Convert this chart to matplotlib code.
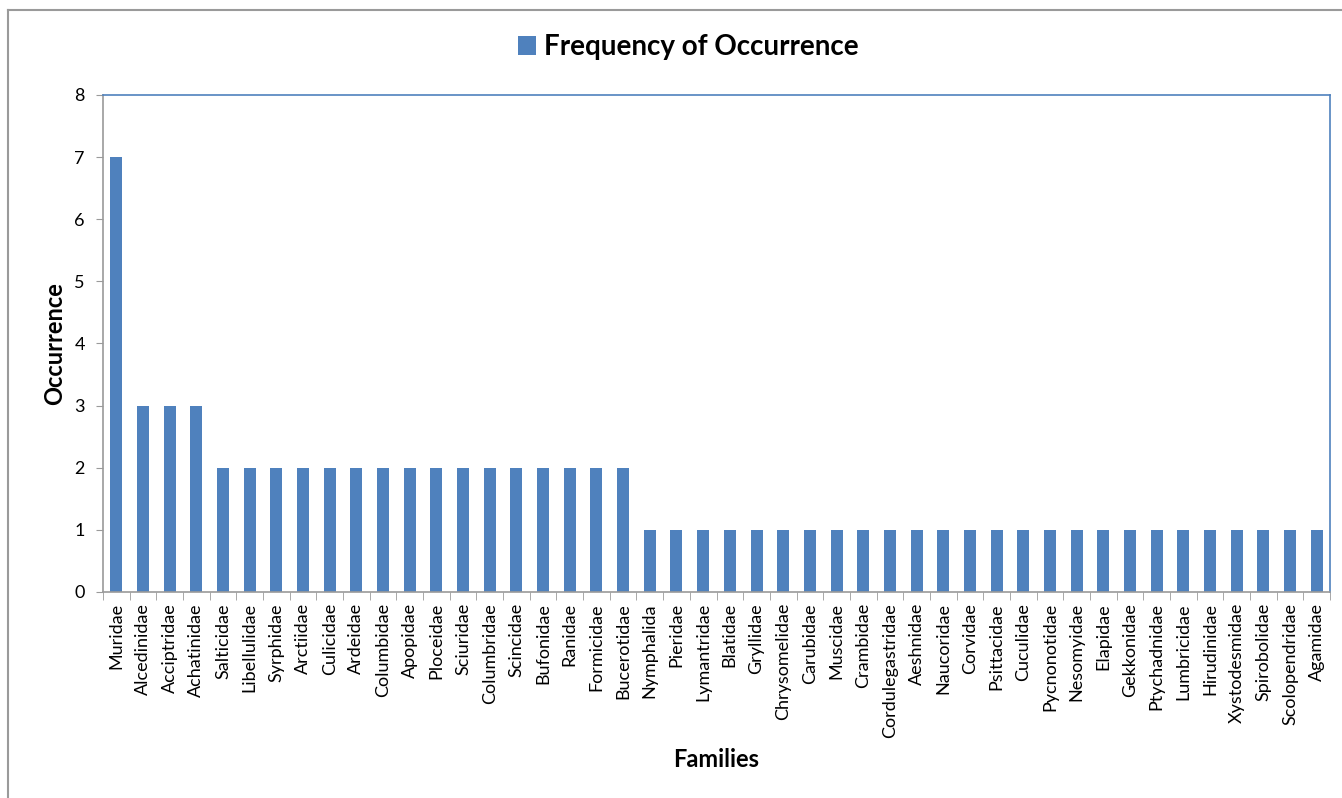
import matplotlib.pyplot as plt
from matplotlib.lines import Line2D
from matplotlib.ticker import FixedLocator

# Families and how often each one occurred
families = ['Muridae', 'Alcedinidae', 'Acciptridae', 'Achatinidae', 'Salticidae',
            'Libellulidae', 'Syrphidae', 'Arctiidae', 'Culicidae', 'Ardeidae',
            'Columbidae', 'Apopidae', 'Ploceidae', 'Sciuridae', 'Columbridae',
            'Scincidae', 'Bufonidae', 'Ranidae', 'Formicidae', 'Bucerotidae',
            'Nymphalida', 'Pieridae', 'Lymantridae', 'Blatidae', 'Gryllidae',
            'Chrysomelidae', 'Carubidae', 'Muscidae', 'Crambidae', 'Cordulegastridae',
            'Aeshnidae', 'Naucoridae', 'Corvidae', 'Psittacidae', 'Cuculidae',
            'Pycnonotidae', 'Nesomyidae', 'Elapidae', 'Gekkonidae', 'Ptychadnidae',
            'Lumbricidae', 'Hirudinidae', 'Xystodesmidae', 'Spirobolidae',
            'Scolopendridae', 'Agamidae']
occurrence = [7, 3, 3, 3, 2,
              2, 2, 2, 2, 2,
              2, 2, 2, 2, 2,
              2, 2, 2, 2, 2,
              1, 1, 1, 1, 1,
              1, 1, 1, 1, 1,
              1, 1, 1, 1, 1,
              1, 1, 1, 1, 1,
              1, 1, 1, 1,
              1, 1]
y_ticks = [0, 1, 2, 3, 4, 5, 6, 7, 8]

BLUE = '#4F81BD'
GRAY = '#9a9a9a'

plt.rcParams['font.family'] = ['Lato', 'DejaVu Sans']

fig = plt.figure(figsize=(13.42, 7.98), dpi=100)
ax = fig.add_axes([103 / 1342, 1 - 592 / 798, (1330 - 103) / 1342, (592 - 95) / 798])

x = list(range(len(families)))
bars = ax.bar(x, occurrence, width=0.45, color=BLUE, label='Frequency of Occurrence')

ax.set_xlim(-0.5, len(families) - 0.5)
ax.set_ylim(0, 8)
ax.set_yticks(y_ticks)
ax.tick_params(axis='y', labelsize=13, length=5, color=GRAY, pad=8)

# category labels centered, tick marks between categories (Excel style)
ax.set_xticks(x)
ax.set_xticklabels(families, rotation=90, fontsize=13)
ax.tick_params(axis='x', which='major', length=0, pad=8)
ax.xaxis.set_minor_locator(FixedLocator([i - 0.5 for i in range(len(families) + 1)]))
ax.tick_params(axis='x', which='minor', length=6, color=GRAY)

for side in ['left', 'bottom']:
    ax.spines[side].set_color(GRAY)
    ax.spines[side].set_linewidth(1.2)
for side in ['top', 'right']:
    ax.spines[side].set_color(BLUE)
    ax.spines[side].set_linewidth(1.2)

ax.set_ylabel('Occurrence', fontsize=17, fontweight='bold', labelpad=6)
ax.set_xlabel('Families', fontsize=17, fontweight='bold', labelpad=7)

fig.legend(handles=[bars], loc='center', bbox_to_anchor=(0.513, 1 - 47 / 798),
           frameon=False, prop={'size': 20, 'weight': 'bold'},
           handlelength=0.65, handleheight=0.65, handletextpad=0.3)

# outer chart border (left and top only visible)
fig.add_artist(Line2D([8 / 1342, 8 / 1342], [0, 1 - 10 / 798], color=GRAY, lw=1.5))
fig.add_artist(Line2D([8 / 1342, 1], [1 - 10 / 798, 1 - 10 / 798], color=GRAY, lw=1.5))

plt.savefig('out.png', dpi=100)
